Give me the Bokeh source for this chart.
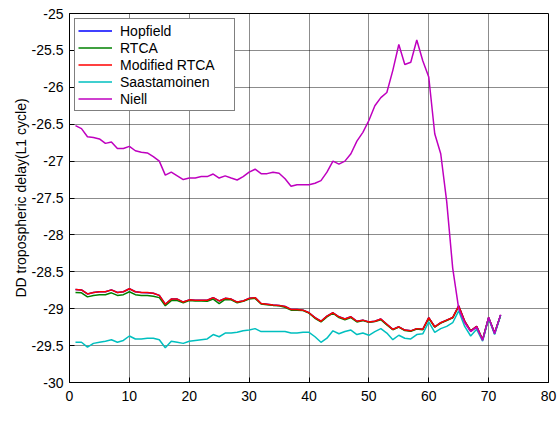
from bokeh.plotting import figure
from bokeh.models import (Range1d, FixedTicker, Legend, LegendItem,
                          CustomJSTickFormatter, Label)
from bokeh.embed import file_html
from bokeh.resources import INLINE

epochs = list(range(1, 73))

hopfield = [-28.74, -28.745, -28.80, -28.78, -28.77, -28.77, -28.745, -28.78, -28.77, -28.73,
            -28.77, -28.78, -28.785, -28.79, -28.82, -28.94, -28.87, -28.87, -28.91, -28.88,
            -28.885, -28.886, -28.886, -28.85, -28.895, -28.86, -28.87, -28.91, -28.895, -28.86,
            -28.85, -28.93, -28.94, -28.95, -28.955, -28.97, -29.01, -29.01, -29.02, -29.055,
            -29.12, -29.17, -29.10, -29.055, -29.11, -29.14, -29.11, -29.17, -29.155, -29.18,
            -29.17, -29.14, -29.21, -29.28, -29.245, -29.29, -29.30, -29.27, -29.28, -29.12,
            -29.245, -29.19, -29.155, -29.12, -28.96, -29.17, -29.30, -29.24, -29.42, -29.12,
            -29.33, -29.09]

rtca = [-28.78, -28.785, -28.84, -28.82, -28.81, -28.81, -28.785, -28.82, -28.81, -28.77,
        -28.81, -28.82, -28.82, -28.83, -28.85, -28.96, -28.89, -28.89, -28.92, -28.89,
        -28.895, -28.896, -28.90, -28.87, -28.93, -28.875, -28.88, -28.92, -28.90, -28.87,
        -28.86, -28.935, -28.945, -28.955, -28.96, -28.98, -29.02, -29.02, -29.025, -29.06,
        -29.13, -29.18, -29.11, -29.06, -29.12, -29.15, -29.12, -29.18, -29.16, -29.185,
        -29.175, -29.15, -29.22, -29.285, -29.25, -29.295, -29.305, -29.275, -29.285, -29.13,
        -29.25, -29.195, -29.16, -29.125, -28.97, -29.175, -29.30, -29.245, -29.42, -29.125,
        -29.335, -29.09]

modified_rtca = [-28.74, -28.745, -28.80, -28.78, -28.77, -28.77, -28.745, -28.78, -28.77, -28.73,
                 -28.77, -28.78, -28.78, -28.79, -28.82, -28.94, -28.87, -28.87, -28.91, -28.88,
                 -28.885, -28.886, -28.886, -28.85, -28.895, -28.86, -28.87, -28.91, -28.895, -28.86,
                 -28.85, -28.93, -28.94, -28.95, -28.955, -28.97, -29.01, -29.01, -29.02, -29.055,
                 -29.12, -29.17, -29.10, -29.055, -29.11, -29.14, -29.11, -29.17, -29.155, -29.18,
                 -29.17, -29.14, -29.21, -29.28, -29.245, -29.29, -29.30, -29.27, -29.28, -29.12,
                 -29.245, -29.19, -29.155, -29.12, -28.96, -29.17, -29.30, -29.24, -29.42, -29.12,
                 -29.33, -29.09]

saastamoinen = [-29.455, -29.455, -29.52, -29.47, -29.455, -29.44, -29.42, -29.455, -29.43, -29.37,
                -29.41, -29.41, -29.40, -29.40, -29.42, -29.53, -29.44, -29.455, -29.47, -29.44,
                -29.43, -29.42, -29.41, -29.35, -29.38, -29.33, -29.33, -29.32, -29.30, -29.29,
                -29.27, -29.31, -29.31, -29.31, -29.31, -29.31, -29.33, -29.33, -29.32, -29.32,
                -29.38, -29.455, -29.40, -29.30, -29.34, -29.31, -29.29, -29.35, -29.33, -29.36,
                -29.31, -29.27, -29.33, -29.42, -29.36, -29.40, -29.41, -29.35, -29.34, -29.18,
                -29.32, -29.27, -29.24, -29.19, -29.03, -29.24, -29.37, -29.28, -29.44, -29.13,
                -29.35, -29.09]

niell = [-26.52, -26.56, -26.67, -26.68, -26.70, -26.76, -26.74, -26.83, -26.83, -26.80,
         -26.86, -26.88, -26.89, -26.94, -27.00, -27.19, -27.15, -27.20, -27.25, -27.23,
         -27.23, -27.21, -27.21, -27.175, -27.23, -27.20, -27.23, -27.256, -27.21, -27.15,
         -27.11, -27.17, -27.17, -27.15, -27.165, -27.24, -27.34, -27.32, -27.32, -27.32,
         -27.30, -27.265, -27.15, -27.00, -27.04, -27.00, -26.90, -26.73, -26.61, -26.45,
         -26.25, -26.14, -26.07, -25.77, -25.42, -25.69, -25.66, -25.36, -25.64, -25.86,
         -26.63, -26.90, -27.55, -28.45, -29.00, -29.19, -29.31, -29.25, -29.43, -29.12,
         -29.34, -29.08]

series_names = ["Hopfield", "RTCA", "Modified RTCA", "Saastamoinen", "Niell"]
series_colors = ["#0000FF", "#008000", "#FF0000", "#00BFBF", "#BF00BF"]
x_ticks = [0, 10, 20, 30, 40, 50, 60, 70, 80]
y_ticks = [-30, -29.5, -29, -28.5, -28, -27.5, -27, -26.5, -26, -25.5, -25]

FONT = "Liberation Sans"
FS = "14px"

p = figure(width=557, height=426, output_backend="svg", toolbar_location=None,
           x_range=Range1d(0, 80), y_range=Range1d(-30, -25),
           min_border_left=69, min_border_right=9, min_border_top=13, min_border_bottom=44)
p.background_fill_color = "white"
p.border_fill_color = "white"
p.outline_line_color = "black"
p.outline_line_width = 1

fmt = CustomJSTickFormatter(code="return String(Math.round(tick*10)/10);")

for ax in (p.xaxis[0], p.yaxis[0]):
    ax.major_tick_in = 5
    ax.major_tick_out = 0
    ax.minor_tick_in = 0
    ax.minor_tick_out = 0
    ax.axis_line_color = "black"
    ax.major_tick_line_color = "black"
    ax.major_label_text_font = FONT
    ax.major_label_text_font_size = FS
    ax.major_label_text_color = "black"
    ax.axis_label_text_font = FONT
    ax.axis_label_text_font_size = FS
    ax.axis_label_text_font_style = "normal"
    ax.axis_label_text_color = "black"

p.xaxis[0].ticker = FixedTicker(ticks=x_ticks)
p.yaxis[0].ticker = FixedTicker(ticks=y_ticks)
p.yaxis[0].formatter = fmt
p.xaxis[0].major_label_standoff = 8
p.yaxis[0].major_label_standoff = 6
p.yaxis[0].axis_label = "DD tropospheric delay(L1 cycle)"
p.yaxis[0].axis_label_standoff = 0

for g in (p.xgrid[0], p.ygrid[0]):
    g.grid_line_color = "black"
    g.grid_line_dash = "1 1"
    g.grid_line_width = 1
    g.grid_line_alpha = 0.9
p.xgrid[0].ticker = FixedTicker(ticks=x_ticks)
p.ygrid[0].ticker = FixedTicker(ticks=y_ticks)

data = [hopfield, rtca, modified_rtca, saastamoinen, niell]
items = []
for name, col, ys in zip(series_names, series_colors, data):
    r = p.line(epochs, ys, line_color=col, line_width=1.5)
    items.append(LegendItem(label=name, renderers=[r]))

legend = Legend(items=items, location="top_left", margin=5, padding=3, spacing=0,
                glyph_height=17, label_height=17, glyph_width=34, label_standoff=8,
                label_width=111, label_text_font=FONT, label_text_font_size=FS,
                label_text_color="black", border_line_color="black", border_line_width=1.5,
                background_fill_color="white", background_fill_alpha=1.0)
p.add_layout(legend, "center")

xlab = Label(x=40, y=-35, x_units="data", y_units="screen", text="Epoch",
             text_align="center", text_baseline="alphabetic",
             text_font=FONT, text_font_size=FS, text_color="black")
p.add_layout(xlab)

open("out.html", "w").write(file_html(p, INLINE))
